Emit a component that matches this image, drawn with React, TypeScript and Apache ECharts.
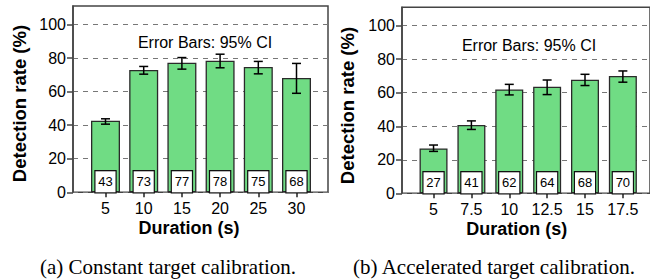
import React, { useEffect, useRef } from "react";
import * as echarts from "echarts";

const SANS = "'Liberation Sans', Arial, Helvetica, sans-serif";
const SERIF = "'Liberation Serif', 'Times New Roman', serif";

// Panel (a): constant target calibration
const catsA = ["5", "10", "15", "20", "25", "30"];
const valsA = [42.6, 72.9, 77.2, 78.4, 74.7, 68.1];
const lowA = [40.6, 70.4, 73.4, 74.2, 70.6, 59.0];
const highA = [43.8, 75.0, 80.3, 82.3, 78.0, 76.8];

// Panel (b): accelerated target calibration
const catsB = ["5", "7.5", "10", "12.5", "15", "17.5"];
const valsB = [26.8, 40.8, 62.0, 63.6, 67.8, 70.0];
const lowB = [25.0, 38.1, 58.7, 58.9, 64.3, 66.3];
const highB = [28.8, 43.2, 65.0, 67.6, 71.0, 73.0];

const yTicks = [0, 20, 40, 60, 80, 100];
const Y_MAX = 111;

function panel(
  idx: number,
  frame: { left: number; top: number; width: number; height: number },
  bars: { left: number; width: number },
  cats: string[],
  vals: number[],
  low: number[],
  high: number[],
  barWidth: number
) {
  const gFrame = idx * 2;
  const gBars = idx * 2 + 1;
  const grids = [
    {
      left: frame.left,
      top: frame.top,
      width: frame.width,
      height: frame.height,
      show: true,
      borderColor: "#444",
      borderWidth: 1.5,
      backgroundColor: "transparent",
      containLabel: false,
    },
    {
      left: bars.left,
      top: frame.top,
      width: bars.width,
      height: frame.height,
      show: false,
      containLabel: false,
    },
  ];
  const xAxes = [
    { type: "value", gridIndex: gFrame, min: 0, max: 1, show: false },
    {
      type: "category",
      gridIndex: gBars,
      data: cats,
      axisLine: { show: false },
      axisTick: {
        show: true,
        alignWithLabel: true,
        interval: 0,
        length: 5,
        lineStyle: { color: "#222", width: 1.5 },
      },
      axisLabel: {
        interval: 0,
        hideOverlap: false,
        fontSize: 16,
        color: "#000",
        fontFamily: SANS,
        margin: 8,
      },
      splitLine: { show: false },
    },
  ];
  const yAxes = [
    {
      type: "value",
      gridIndex: gFrame,
      min: 0,
      max: Y_MAX,
      interval: 20,
      axisLine: { show: true, lineStyle: { color: "#444", width: 1.5 } },
      axisTick: {
        show: true,
        length: 6,
        customValues: yTicks,
        lineStyle: { color: "#444", width: 1.5 },
      },
      axisLabel: {
        fontSize: 16,
        color: "#000",
        fontFamily: SANS,
        margin: 7,
        customValues: yTicks,
      },
      splitLine: {
        show: true,
        lineStyle: { color: "#777", width: 1, type: [5, 5] },
      },
    },
    {
      type: "value",
      gridIndex: gBars,
      min: 0,
      max: Y_MAX,
      show: false,
      splitLine: { show: false },
    },
  ];
  const series = [
    {
      type: "bar",
      xAxisIndex: gBars,
      yAxisIndex: gBars,
      data: vals,
      barWidth,
      itemStyle: { color: "#70dc84", borderColor: "#2a2a2a", borderWidth: 1.3 },
      label: {
        show: true,
        position: "insideBottom",
        distance: 0,
        formatter: (p: any) => String(Math.round(p.value)),
        backgroundColor: "#fff",
        borderColor: "#111",
        borderWidth: 1.2,
        width: 20,
        height: 21,
        lineHeight: 21,
        align: "center",
        fontSize: 13,
        color: "#000",
        fontFamily: SANS,
      },
      z: 2,
    },
    {
      type: "custom",
      xAxisIndex: gBars,
      yAxisIndex: gBars,
      data: cats.map((_, i) => [i, low[i], high[i]]),
      z: 5,
      renderItem: (_params: any, api: any) => {
        const x = api.value(0);
        const pLo = api.coord([x, api.value(1)]);
        const pHi = api.coord([x, api.value(2)]);
        const w = 4.5;
        const style = { stroke: "#000", lineWidth: 1.5 };
        return {
          type: "group",
          children: [
            { type: "line", shape: { x1: pLo[0], y1: pLo[1], x2: pHi[0], y2: pHi[1] }, style },
            { type: "line", shape: { x1: pHi[0] - w, y1: pHi[1], x2: pHi[0] + w, y2: pHi[1] }, style },
            { type: "line", shape: { x1: pLo[0] - w, y1: pLo[1], x2: pLo[0] + w, y2: pLo[1] }, style },
          ],
        };
      },
    },
  ];
  return { grids, xAxes, yAxes, series };
}

function textEl(text: string, x: number, y: number, font: string, size: number, weight: string, rotation = 0) {
  return {
    type: "text",
    x,
    y,
    rotation,
    style: {
      text,
      fontFamily: font,
      fontSize: size,
      fontWeight: weight,
      fill: "#000",
      align: "center",
      verticalAlign: "middle",
    },
    z: 10,
  };
}

export default function App() {
  const ref = useRef<HTMLDivElement>(null);
  useEffect(() => {
    if (!ref.current) return;
    const chart = echarts.init(ref.current, undefined, { renderer: "svg" });
    const a = panel(
      0,
      { left: 73, top: 192.3 - Y_MAX * 1.678, width: 255, height: Y_MAX * 1.678 },
      { left: 86.4, width: 229.2 },
      catsA, valsA, lowA, highA, 29
    );
    const b = panel(
      1,
      { left: 402, top: 193.3 - Y_MAX * 1.676, width: 260, height: Y_MAX * 1.676 },
      { left: 414.6, width: 227.2 },
      catsB, valsB, lowB, highB, 28
    );
    chart.setOption({
      animation: false,
      backgroundColor: "#fff",
      grid: [...a.grids, ...b.grids],
      xAxis: [...a.xAxes, ...b.xAxes],
      yAxis: [...a.yAxes, ...b.yAxes],
      series: [...a.series, ...b.series],
      graphic: [
        textEl("Error Bars: 95% CI", 205, 42.3, SANS, 16, "normal"),
        textEl("Error Bars: 95% CI", 529, 45.7, SANS, 16, "normal"),
        textEl("Detection rate (%)", 19, 103.5, SANS, 18.5, "bold", Math.PI / 2),
        textEl("Detection rate (%)", 347, 105.5, SANS, 18.5, "bold", Math.PI / 2),
        textEl("Duration (s)", 189, 228.3, SANS, 18, "bold"),
        textEl("Duration (s)", 516.7, 229, SANS, 18, "bold"),
        textEl("(a) Constant target calibration.", 168, 266.7, SERIF, 21, "normal"),
        textEl("(b) Accelerated target calibration.", 494, 266.7, SERIF, 21, "normal"),
      ],
    });
    return () => chart.dispose();
  }, []);
  return (
    <div
      ref={ref}
      style={{ position: "absolute", left: 0, top: 0, width: 650, height: 280 }}
    />
  );
}
